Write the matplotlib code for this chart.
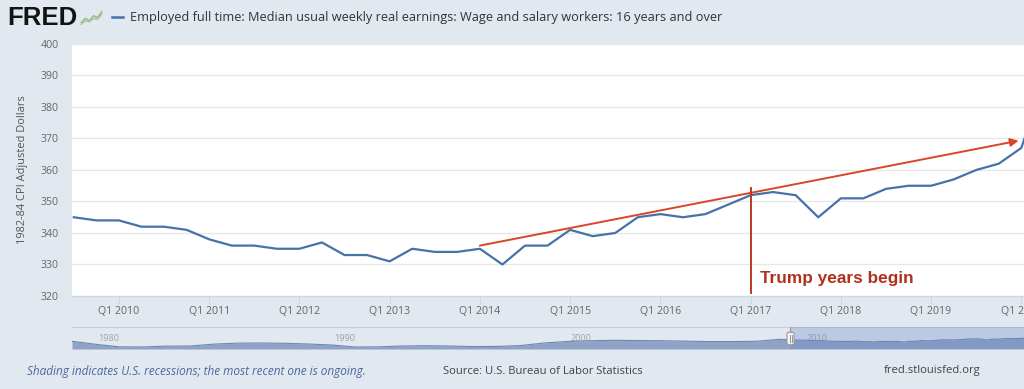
import matplotlib
matplotlib.use("Agg")
import matplotlib.pyplot as plt
from matplotlib.patches import FancyBboxPatch
import numpy as np

# ---------------- data ----------------
quarters = [
    "2009Q3", "2009Q4",
    "2010Q1", "2010Q2", "2010Q3", "2010Q4",
    "2011Q1", "2011Q2", "2011Q3", "2011Q4",
    "2012Q1", "2012Q2", "2012Q3", "2012Q4",
    "2013Q1", "2013Q2", "2013Q3", "2013Q4",
    "2014Q1", "2014Q2", "2014Q3", "2014Q4",
    "2015Q1", "2015Q2", "2015Q3", "2015Q4",
    "2016Q1", "2016Q2", "2016Q3", "2016Q4",
    "2017Q1", "2017Q2", "2017Q3", "2017Q4",
    "2018Q1", "2018Q2", "2018Q3", "2018Q4",
    "2019Q1", "2019Q2", "2019Q3", "2019Q4",
    "2020Q1", "2020Q2",
]
earnings = [
    345, 344,
    344, 342, 342, 341,
    338, 336, 336, 335,
    335, 337, 333, 333,
    331, 335, 334, 334,
    335, 330, 336, 336,
    341, 339, 340, 345,
    346, 345, 346, 349,
    352, 353, 352, 345,
    351, 351, 354, 355,
    355, 357, 360, 362,
    367, 388,
]

# navigator (overview of the full history, approximate annual values)
nav_years = [1979, 1980, 1981, 1982, 1983, 1984, 1985, 1986, 1987, 1988,
             1989, 1990, 1991, 1992, 1993, 1994, 1995, 1996, 1997, 1998,
             1999, 2000, 2001, 2002, 2003, 2004, 2005, 2006, 2007, 2008,
             2009]
nav_values = [336, 315, 297, 296, 302, 303, 316, 323, 324, 322,
              317, 310, 296, 297, 303, 305, 303, 299, 300, 306,
              324, 335, 340, 343, 341, 340, 337, 334, 334, 336,
              350]

xtick_years = [2010, 2011, 2012, 2013, 2014, 2015, 2016, 2017, 2018, 2019, 2020]
xtick_labels = ["Q1 %d" % y for y in xtick_years]
ytick_values = [320, 330, 340, 350, 360, 370, 380, 390, 400]
nav_label_years = [1980, 1990, 2000, 2010]

title_text = "Employed full time: Median usual weekly real earnings: Wage and salary workers: 16 years and over"
ylabel_text = "1982-84 CPI Adjusted Dollars"
annot_text = "Trump years begin"

# annotation geometry
arrow_start = (2014.0, 336.0)
arrow_end = (2019.97, 369.3)
trump_x = 2017.0
trump_line_y = (321.0, 354.3)
trump_text_pos = (2017.1, 325.6)


def q_to_x(q):
    y, qq = q.split("Q")
    return int(y) + (int(qq) - 1) / 4.0


xq = np.array([q_to_x(q) for q in quarters])

# ---------------- style ----------------
BG = "#e1e8f0"
LINE = "#4572a7"
GRID = "#e6e6e6"
TICKC = "#666666"
AXC = "#ccd6eb"
FONT = ["Open Sans", "DejaVu Sans"]

W, H = 1024, 389
fig = plt.figure(figsize=(W / 100, H / 100), dpi=100, facecolor=BG)


def fx(px):
    return px / W


def fy(py):
    return 1 - py / H


# ---------------- main axes ----------------
ax = fig.add_axes([fx(72), fy(296), fx(1024 - 72), (296 - 44) / H])
ax.set_facecolor("white")
ax.plot(xq, earnings, color=LINE, lw=1.6, solid_joinstyle="round", zorder=3)
ax.set_xlim(2009.48, 2020.03)
ax.set_ylim(320, 400)
ax.set_yticks(ytick_values)
ax.set_xticks(xtick_years)
ax.set_xticklabels(xtick_labels)
ax.grid(axis="y", color=GRID, lw=0.9)
ax.set_axisbelow(True)
for s in ["left", "right", "top"]:
    ax.spines[s].set_visible(False)
ax.spines["bottom"].set_color(AXC)
ax.spines["bottom"].set_linewidth(0.9)
ax.tick_params(axis="y", length=0, pad=9.5, labelsize=7.6, labelcolor=TICKC)
ax.tick_params(axis="x", length=6, width=0.8, color=AXC, pad=1.5,
               labelsize=7.6, labelcolor=TICKC)
for lab in ax.get_xticklabels() + ax.get_yticklabels():
    lab.set_family(FONT)
ax.set_ylabel(ylabel_text, fontsize=7.9, color="#555555", family=FONT)
ax.yaxis.set_label_coords(-(72 - 28) / (1024 - 72), 0.5)

# annotations
ax.annotate("", xy=arrow_end, xytext=arrow_start,
            arrowprops=dict(arrowstyle="-|>", color="#d9452b", lw=1.4,
                            mutation_scale=12, shrinkA=0, shrinkB=0),
            zorder=5)
ax.plot([trump_x, trump_x], list(trump_line_y), color="#b83a2a", lw=1.4, zorder=5)
ax.text(trump_text_pos[0], trump_text_pos[1], annot_text, color="#b0301e",
        fontsize=12.4, fontweight="bold", family=["Liberation Sans", "DejaVu Sans"],
        va="center", ha="left", zorder=6)

# ---------------- navigator ----------------
nav = fig.add_axes([fx(72), fy(349), fx(1024 - 72), (349 - 327) / H])
nav.set_facecolor(BG)
nx = list(nav_years) + list(xq)
nv = list(nav_values) + list(earnings)
nav.set_xlim(1979.0, 2019.34)
nav.set_ylim(282, 436)
nav.fill_between(nx, nv, 282, color="#8ea3c6", lw=0, zorder=2)
nav.plot(nx, nv, color="#6c87b4", lw=0.8, zorder=3)
nav.axvspan(2009.42, 2021, color="#6685c2", alpha=0.3, lw=0, zorder=4)
for yr in nav_label_years:
    nav.annotate(str(yr), xy=(yr, 282), xytext=(2, 6), textcoords="offset points",
                 fontsize=6.5, color="#a0a0a0", family=FONT, zorder=1)
for s in ["left", "right", "bottom"]:
    nav.spines[s].set_visible(False)
nav.spines["top"].set_color("#c8ced6")
nav.spines["top"].set_linewidth(0.8)
nav.set_xticks([])
nav.set_yticks([])
# handle
nav.axvline(2009.42, color="#999999", lw=0.8, zorder=5)
handle = FancyBboxPatch((fx(787), fy(345)), fx(7), 13 / H,
                        boxstyle="round,pad=0.0,rounding_size=0.004",
                        transform=fig.transFigure, facecolor="#f2f2f2",
                        edgecolor="#999999", lw=0.8, zorder=10)
fig.patches.append(handle)
fig.lines.append(plt.Line2D([fx(789.5), fx(789.5)], [fy(342), fy(335)],
                            transform=fig.transFigure, color="#888888", lw=0.6, zorder=11))
fig.lines.append(plt.Line2D([fx(791.5), fx(791.5)], [fy(342), fy(335)],
                            transform=fig.transFigure, color="#888888", lw=0.6, zorder=11))

# ---------------- header ----------------
fig.text(fx(7), fy(18), "FRED", fontsize=18.5, fontweight="bold", color="#141414",
         family=["Liberation Sans", "DejaVu Sans"], va="center", ha="left")
icon = fig.add_axes([fx(80), fy(26), fx(23), 17 / H])
icon.set_facecolor("#e8ece4")
icon_a = [0.2, 0.45, 0.3, 0.6, 0.5, 0.85]
icon_b = [0.1, 0.3, 0.25, 0.45, 0.4, 0.7]
icon.plot(range(len(icon_a)), icon_a, color="#8fbf6a", lw=1.0)
icon.plot(range(len(icon_b)), icon_b, color="#b0b8b0", lw=1.0)
icon.set_xlim(-0.3, 5.3)
icon.set_ylim(0, 1)
icon.axis("off")

fig.lines.append(plt.Line2D([fx(112), fx(123)], [fy(17), fy(17)],
                            transform=fig.transFigure, color=LINE, lw=1.8))
fig.text(fx(130), fy(17), title_text, fontsize=9.15, color="#333333",
         family=FONT, va="center", ha="left")

# ---------------- footer ----------------
fig.text(fx(27), fy(371), "Shading indicates U.S. recessions; the most recent one is ongoing.",
         fontsize=8.5, style="italic", color="#4a6a9c", family=FONT,
         va="center", ha="left")
fig.text(fx(443), fy(371), "Source: U.S. Bureau of Labor Statistics",
         fontsize=8.1, color="#444444", family=FONT, va="center", ha="left")
fig.text(fx(884), fy(371), "fred.stlouisfed.org",
         fontsize=8.1, color="#444444", family=FONT, va="center", ha="left")

fig.savefig("out.png", dpi=100, facecolor=BG)
